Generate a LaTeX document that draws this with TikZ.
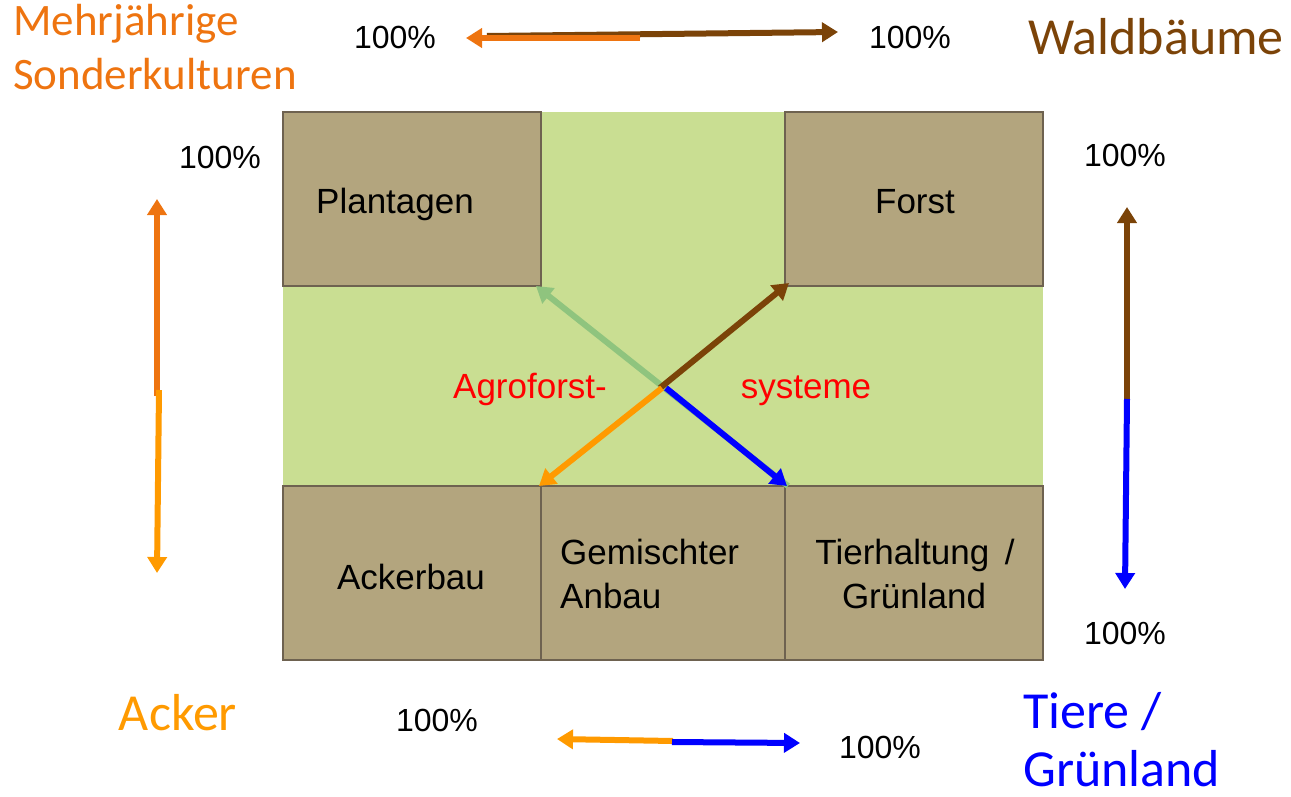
\documentclass[tikz,border=0pt]{standalone}
\usepackage{fontspec}
\setmainfont{Liberation Sans}
\newfontfamily\carlito{Carlito}
\usetikzlibrary{arrows.meta}
\definecolor{tanfill}{HTML}{B3A57E}
\definecolor{tanline}{HTML}{6E6250}
\definecolor{greenfill}{HTML}{C9DE92}
\definecolor{darkorange}{HTML}{EE7410}
\definecolor{lightorange}{HTML}{FF9A00}
\definecolor{woodbrown}{HTML}{7B4308}
\definecolor{paleGreen}{HTML}{8FC47E}
\definecolor{pureblue}{HTML}{0000FF}
\definecolor{purered}{HTML}{FF0000}
\begin{document}
\begin{tikzpicture}[x=1pt,y=-1pt,
  box/.style={draw=tanline,line width=2pt,fill=tanfill,inner sep=0pt},
  boxtext/.style={font=\fontsize{35}{44}\selectfont,anchor=base,inner sep=0pt,text=black},
  pct/.style={font=\fontsize{32}{38}\selectfont,anchor=base,inner sep=0pt},
  biglabel/.style={font=\carlito\fontsize{52}{62}\selectfont,anchor=base,inner sep=0pt},
  arr/.style={line width=6pt,-{Triangle[width=19pt,length=16pt]}},
]
\useasboundingbox (0,0) rectangle (1291,797);

% background field
\fill[greenfill] (283,112) rectangle (1043,660);

% boxes
\node[box,minimum width=258pt,minimum height=174pt] (plant) at (412,199) {};
\node[box,minimum width=258pt,minimum height=174pt] (forst) at (914,199) {};
\node[box,minimum width=258pt,minimum height=174pt] (acker) at (412,573) {};
\node[box,minimum width=244pt,minimum height=174pt] (gem) at (663,573) {};
\node[box,minimum width=258pt,minimum height=174pt] (tier) at (914,573) {};

% box texts
\node[boxtext] (tplant) at (395,213) {Plantagen};
\node[boxtext] (tforst) at (915,213) {Forst};
\node[boxtext] (tacker) at (411,589) {Ackerbau};
\node[boxtext,anchor=base west] (tgem1) at (560,564) {Gemischter};
\node[boxtext,anchor=base west] (tgem2) at (560,608) {Anbau};
\node[boxtext] (ttier1) at (915,564) {Tierhaltung \,/};
\node[boxtext] (ttier2) at (914,608) {Grünland};
\node[boxtext,text=purered] (tagro) at (530,398) {Agroforst-};
\node[boxtext,text=purered] (tsys) at (806,398) {systeme};

% percentages
\node[pct] (p1) at (395,49) {100\%};
\node[pct] (p2) at (910,49) {100\%};
\node[pct] (p3) at (220,169) {100\%};
\node[pct] (p4) at (1125,167) {100\%};
\node[pct] (p5) at (1125,644) {100\%};
\node[pct] (p6) at (437,731) {100\%};
\node[pct] (p7) at (880,758) {100\%};

% corner labels
\node[font=\carlito\fontsize{45}{54}\selectfont,anchor=base west,inner sep=0pt,text=darkorange] (lm1) at (13,36) {Mehrjährige};
\node[font=\carlito\fontsize{45}{54}\selectfont,anchor=base west,inner sep=0pt,text=darkorange] (lm2) at (13,90) {Sonderkulturen};
\node[biglabel,text=woodbrown] (lw) at (1156,55) {Waldbäume};
\node[biglabel,text=lightorange] (la) at (178,730) {Acker};
\node[biglabel,anchor=base west,text=pureblue] (lt1) at (1023,728) {Tiere /};
\node[biglabel,anchor=base west,text=pureblue] (lt2) at (1023,786) {Grünland};

% top arrow
\coordinate (tb0) at (487,36); \coordinate (tb1) at (838,32);
\coordinate (to0) at (640,38); \coordinate (to1) at (466,38);
\draw[arr,woodbrown] (tb0) -- (tb1);
\draw[arr,darkorange] (to0) -- (to1);

% left arrow
\coordinate (lo0) at (157,396); \coordinate (lo1) at (157,199);
\coordinate (ll0) at (159,390); \coordinate (ll1) at (157,573);
\draw[arr,darkorange] (lo0) -- (lo1);
\draw[arr,lightorange] (ll0) -- (ll1);

% right arrow
\coordinate (rb0) at (1127,405); \coordinate (rb1) at (1127,207);
\coordinate (rl0) at (1127,399); \coordinate (rl1) at (1125,589);
\draw[arr,woodbrown] (rb0) -- (rb1);
\draw[arr,pureblue] (rl0) -- (rl1);

% bottom arrow
\coordinate (bo0) at (673,741); \coordinate (bo1) at (557,739);
\coordinate (bb0) at (672,742); \coordinate (bb1) at (800,743);
\draw[arr,lightorange] (bo0) -- (bo1);
\draw[arr,pureblue] (bb0) -- (bb1);

% centre cross
\coordinate (cg0) at (788,486); \coordinate (cg1) at (536,286);
\coordinate (cc) at (660,388);
\coordinate (cb1) at (789,283);
\coordinate (co1) at (539,486);
\coordinate (cl0) at (666,388); \coordinate (cl1) at (787,486);
\draw[arr,paleGreen] (cg0) -- (cg1);
\draw[woodbrown,line width=1pt] (cc) -- (546,481);
\draw[arr,woodbrown] (cc) -- (cb1);
\draw[arr,lightorange] ([xshift=2pt]cc) -- (co1);
\draw[arr,pureblue] (cl0) -- (cl1);
\end{tikzpicture}
\end{document}
